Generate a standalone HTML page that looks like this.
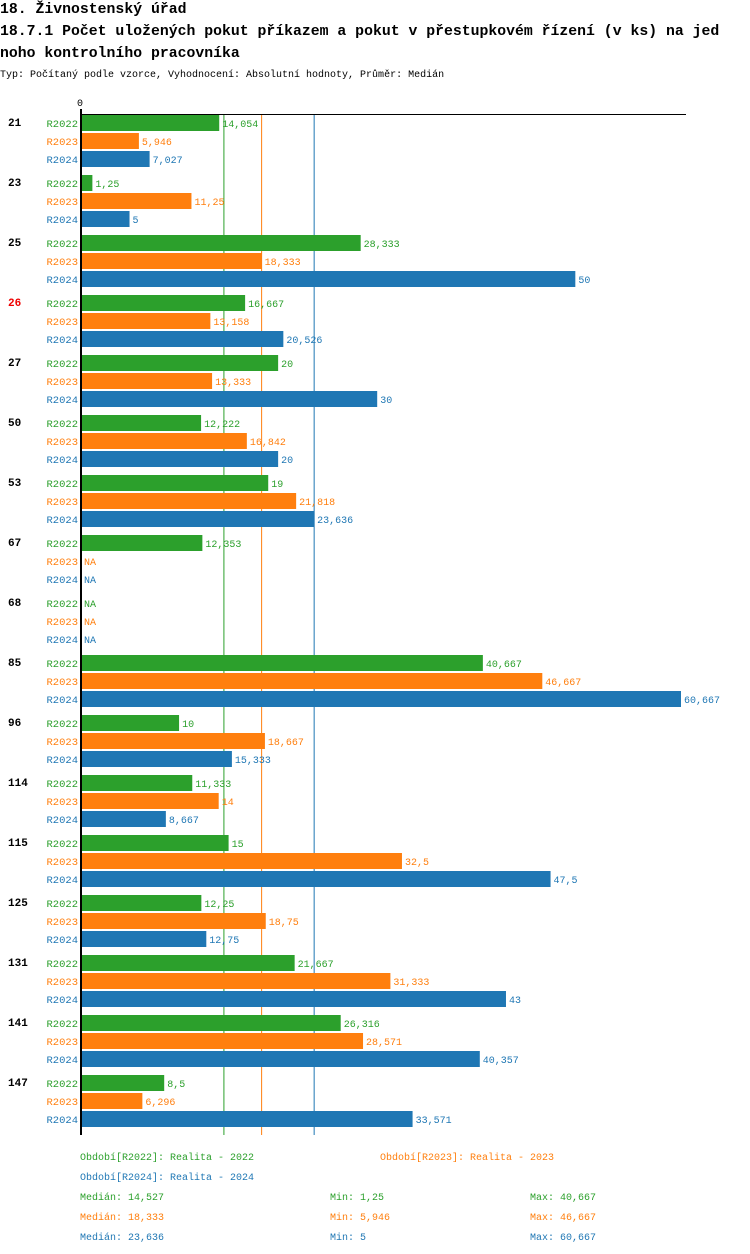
<!DOCTYPE html>
<html><head><meta charset="utf-8"><style>
body{margin:0;background:#fff;width:750px;height:1254px;overflow:hidden}
svg{display:block;font-family:"Liberation Mono",monospace}
</style></head><body>
<svg id="chart" width="750" height="1254" xmlns="http://www.w3.org/2000/svg">
<text x="0" y="13" font-size="14.8" font-weight="bold">18. Živnostenský úřad</text>
<text x="0" y="35" font-size="14.8" font-weight="bold">18.7.1 Počet uložených pokut příkazem a pokut v přestupkovém řízení (v ks) na jed</text>
<text x="0" y="57" font-size="14.8" font-weight="bold">noho kontrolního pracovníka</text>
<text x="0" y="77" font-size="10">Typ: Počítaný podle vzorce, Vyhodnocení: Absolutní hodnoty, Průměr: Medián</text>
<g id="plot"></g>
<g id="legend"></g>
</svg>
<script>
const categories=["21","23","25","26","27","50","53","67","68","85","96","114","115","125","131","141","147"];
const series=["R2022","R2023","R2024"];
const r2022=[14.054,1.25,28.333,16.667,20,12.222,19,12.353,null,40.667,10,11.333,15,12.25,21.667,26.316,8.5];
const r2023=[5.946,11.25,18.333,13.158,13.333,16.842,21.818,null,null,46.667,18.667,14,32.5,18.75,31.333,28.571,6.296];
const r2024=[7.027,5,50,20.526,30,20,23.636,null,null,60.667,15.333,8.667,47.5,12.75,43,40.357,33.571];
const medians=[14.527,18.333,23.636];
const mins=["1,25","5,946","5"];
const maxs=["40,667","46,667","60,667"];
const highlight="26";
const colors=["#2ca02c","#ff7f0e","#1f77b4"];
const NS="http://www.w3.org/2000/svg";
const x0=80,scale=601/60.667;
const xs=v=>x0+v*scale;
const gy=i=>115+i*60;
const plot=document.getElementById('plot');
function mk(tag,attrs,parent,txt){const e=document.createElementNS(NS,tag);for(const k in attrs)e.setAttribute(k,attrs[k]);if(txt!==undefined)e.textContent=txt;parent.appendChild(e);return e;}
const fmt=v=>String(v).replace('.',',');
const data=[r2022,r2023,r2024];
medians.forEach((m,s)=>{const l=mk('line',{x1:xs(m),x2:xs(m),y1:114,y2:1135,stroke:colors[s],'stroke-width':1},plot);

});
categories.forEach((c,i)=>{
 const t=mk('text',{x:8,y:gy(i)+11,'font-size':11,'font-weight':'bold',fill:c===highlight?'#e00':'#000'},plot,c);
 
 
 data.forEach((arr,s)=>{
  const y=gy(i)+s*18;const v=arr[i];
  const lb=mk('text',{x:78,y:y+12,'font-size':10.5,'text-anchor':'end',fill:colors[s]},plot,series[s]);
  
  
  if(v===null){const n=mk('text',{x:84,y:y+12,'font-size':10,fill:colors[s]},plot,'NA');
   
   return;}
  const r=mk('rect',{x:x0,y:y,width:xs(v)-x0,height:16,fill:colors[s]},plot);
  
  
  const vt=mk('text',{x:xs(v)+3,y:y+12,'font-size':10,fill:colors[s]},plot,fmt(v));
  
  
 });
});
const ax=mk('line',{x1:80,x2:686,y1:114.5,y2:114.5,stroke:'#000','stroke-width':1},plot);


const ay=mk('line',{x1:81,x2:81,y1:109,y2:1135,stroke:'#000','stroke-width':2},plot);


const z=mk('text',{x:80,y:106,'font-size':10,'text-anchor':'middle'},plot,'0');


const lg=document.getElementById('legend');
const legItems=[[80,1160,0,"Období[R2022]: Realita - 2022"],[380,1160,1,"Období[R2023]: Realita - 2023"],[80,1180,2,"Období[R2024]: Realita - 2024"]];
legItems.forEach(([x,y,s,t])=>{const e=mk('text',{x:x,y:y,'font-size':10,fill:colors[s]},lg,t);
 
 });
[0,1,2].forEach(s=>{const y=1200+s*20;
 const a=mk('text',{x:80,y:y,'font-size':10,fill:colors[s]},lg,'Medián: '+fmt(medians[s]));
 
 
 const b=mk('text',{x:330,y:y,'font-size':10,fill:colors[s]},lg,'Min: '+mins[s]);
 
 
 const d=mk('text',{x:530,y:y,'font-size':10,fill:colors[s]},lg,'Max: '+maxs[s]);
 
 });
</script>
</body></html>
